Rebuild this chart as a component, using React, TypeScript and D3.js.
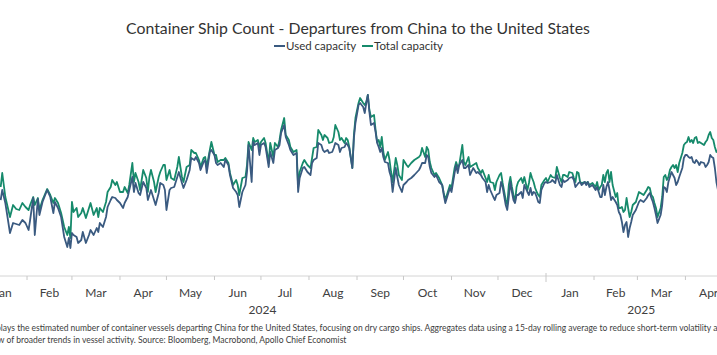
import React from "react";
import * as d3 from "d3";

const W = 717;
const H = 355;

// days since 2024-01-01 (UTC)
const dayOffsets = [
  14,15,17,20,22,24,26,28,30,32,33,35,36,38,39,41,44,46,48,49,51,53,55,57,58,59,60,61,63,64,66,67,69,71,72,74,76,77,78,80,82,83,85,86,88,89,91,
  93,94,96,97,99,100,101,103,104,106,108,109,110,111,113,114,116,117,119,120,121,123,124,126,128,129,131,132,134,136,137,139,140,142,143,145,146,147,149,150,152,153,154,156,158,159,161,162,164,166,167,168,
  170,172,173,174,176,177,178,180,181,182,184,185,187,188,190,191,193,194,195,197,198,200,201,203,205,206,207,209,210,212,214,215,216,218,219,221,222,223,225,226,228,229,230,232,233,234,236,237,238,239,241,242,243,245,246,
  248,249,250,251,252,253,255,256,257,258,259,260,261,262,264,265,266,267,269,270,271,273,274,276,277,279,281,284,285,286,288,289,290,291,292,294,295,297,299,300,301,302,304,305,307,308,309,310,312,313,314,316,317,319,321,322,324,
  325,327,328,329,330,332,333,334,336,337,338,340,341,342,343,344,345,346,347,348,350,351,352,354,355,356,357,358,359,360,361,362,363,365,366,367,369,370,372,373,375,376,377,378,380,381,383,384,385,386,387,388,389,391,392,393,394,396,398,399,400,401,402,
  403,404,405,406,407,408,409,411,412,413,414,415,416,417,418,419,420,421,422,424,426,427,429,431,432,433,434,435,436,437,438,440,441,442,443,444,445,446,447,448,449,450,451,452,454,455,456,457,458,459,460,461,462,463,464,465,466,468,469,470,471,472,473,474,475,476,477,
];

const usedCapacity = [
  100,110,97,67,77,76,75,80,77,70,80,102,65,101,85,98,110,103,87,98,92,83,63,53,62,52,67,65,63,57,60,68,57,65,70,65,72,68,77,73,83,93,100,103,102,100,97,
  92,97,103,110,123,108,117,107,105,118,112,100,105,110,100,95,107,117,115,110,90,110,112,113,123,128,117,112,120,130,142,140,143,137,130,138,140,127,148,150,145,137,135,137,133,140,135,125,112,108,105,93,
  108,115,128,155,118,158,155,157,145,155,157,153,133,148,137,150,152,155,167,175,163,155,150,145,147,108,122,132,133,128,125,137,140,142,157,155,150,148,150,147,148,152,157,155,148,152,153,157,155,152,132,162,177,195,197,
  193,187,197,205,188,175,177,168,157,153,148,152,143,138,137,128,123,108,132,123,115,108,115,118,120,122,125,130,133,137,137,145,143,133,127,123,125,118,115,105,97,102,112,108,127,135,127,135,140,132,132,135,125,132,127,128,125,
  122,118,108,115,110,103,100,105,107,118,113,95,90,103,118,108,100,97,105,105,108,102,115,108,105,112,105,108,107,103,98,97,110,117,118,117,118,120,117,125,115,113,120,118,120,122,123,120,113,115,117,118,115,118,115,118,113,115,110,113,108,103,103,
  115,105,113,118,110,100,103,98,95,88,85,78,68,75,78,63,72,78,85,90,98,100,98,102,105,107,102,98,92,85,77,85,95,113,112,108,118,123,128,125,122,115,118,123,132,142,145,145,143,142,143,138,137,140,138,135,138,137,133,135,138,145,143,142,132,118,110,
];

const totalCapacity = [
  113,127,103,83,95,91,90,97,93,90,95,103,95,102,90,100,111,105,97,102,97,87,73,65,73,62,98,88,92,83,87,92,82,92,97,85,92,83,92,88,98,108,113,120,115,118,108,
  108,113,107,115,137,118,127,118,110,130,122,108,123,130,118,108,123,128,135,135,120,130,122,120,133,143,123,118,133,135,150,147,147,140,133,142,143,133,150,158,145,145,138,140,140,142,137,127,115,120,115,105,
  122,123,135,158,150,162,158,160,153,158,162,157,137,157,143,157,153,160,170,182,165,160,153,148,150,113,128,137,140,135,132,142,152,153,170,165,160,165,162,157,158,163,175,168,160,162,157,162,160,153,132,165,182,197,202,
  197,195,198,205,190,183,185,170,158,160,153,163,148,140,148,140,128,118,142,135,125,120,140,135,133,137,140,143,145,152,143,153,150,138,132,125,127,122,115,107,100,105,115,112,132,138,133,135,155,138,135,143,133,135,137,132,127,
  130,122,118,125,118,117,110,118,125,127,117,100,95,115,123,113,105,98,113,118,122,117,123,110,117,127,122,118,112,108,105,103,115,120,122,118,125,123,122,133,122,118,125,125,123,128,127,122,118,128,127,118,117,118,117,118,115,117,113,118,110,113,115,
  125,118,127,130,118,128,115,103,107,92,92,93,88,90,102,92,83,88,95,98,108,107,105,110,113,112,105,103,97,92,83,92,103,123,125,120,123,130,133,135,132,135,128,137,147,155,157,158,163,158,160,157,162,163,157,158,157,155,158,160,165,168,162,160,153,148,150,
];

const seriesNames = ["Used capacity", "Total capacity"];
const seriesColors = ["#3a5a80", "#168a6b"];

const titleText = "Container Ship Count - Departures from China to the United States";
const footnoteLines = [
  "Displays the estimated number of container vessels departing China for the United States, focusing on dry cargo ships. Aggregates data using a 15-day rolling average to reduce short-term volatility and provide a clearer",
  "view of broader trends in vessel activity. Source: Bloomberg, Macrobond, Apollo Chief Economist",
];

const FONT = "'Segoe UI', Lato, 'Open Sans', sans-serif";
const DAY = 864e5;
const BASE = Date.UTC(2024, 0, 1);
const toDate = (d: number) => new Date(BASE + d * DAY);

export default function App() {
  const x = d3
    .scaleUtc()
    .domain([new Date(Date.UTC(2024, 0, 1)), new Date(Date.UTC(2025, 0, 1))])
    .range([-21, 546]);
  const y = d3.scaleLinear().domain([40, 220]).range([260, 80]);

  const axisStart = new Date(Date.UTC(2023, 11, 18));
  const axisEnd = new Date(Date.UTC(2025, 4, 4));
  const axisY = 276;

  const monthStarts = d3.utcMonth.range(d3.utcMonth.floor(axisStart), axisEnd);
  const tickDates = monthStarts.filter((m) => m > axisStart);
  const years = [2024, 2025];

  const idx = d3.range(dayOffsets.length);
  const mk = (vals: number[]) =>
    d3
      .line<number>()
      .x((i) => x(toDate(dayOffsets[i])))
      .y((i) => y(vals[i]))(idx) || "";

  const seriesVals = [usedCapacity, totalCapacity];

  return (
    <svg
      width={W}
      height={H}
      style={{ position: "absolute", left: 0, top: 0, background: "#fff" }}
      fontFamily={FONT}
    >
      <text x={358} y={34} textAnchor="middle" fontSize={15.8} fill="#333">
        {titleText}
      </text>
      {/* legend */}
      <g fontSize={11.5} fill="#333">
        <line x1={274} x2={285} y1={46} y2={46} stroke={seriesColors[0]} strokeWidth={2} />
        <text x={286} y={50}>{seriesNames[0]}</text>
        <line x1={362} x2={373} y1={46} y2={46} stroke={seriesColors[1]} strokeWidth={2} />
        <text x={374} y={50}>{seriesNames[1]}</text>
      </g>

      {/* lines: total first, used on top */}
      <path d={mk(seriesVals[1])} fill="none" stroke={seriesColors[1]} strokeWidth={1.8} strokeLinejoin="round" />
      <path d={mk(seriesVals[0])} fill="none" stroke={seriesColors[0]} strokeWidth={1.8} strokeLinejoin="round" />

      {/* axis */}
      <line x1={x(axisStart)} x2={x(axisEnd)} y1={axisY} y2={axisY} stroke="#d4d4d4" strokeWidth={1} />
      {tickDates.map((m, i) => {
        const isYear = m.getUTCMonth() === 0;
        return (
          <line
            key={i}
            x1={x(m)}
            x2={x(m)}
            y1={isYear ? axisY - 3 : axisY}
            y2={isYear ? axisY + 6 : axisY + 4}
            stroke="#c8c8c8"
            strokeWidth={1}
          />
        );
      })}
      {monthStarts.map((m, i) => {
        const next = d3.utcMonth.offset(m, 1);
        const cx = (x(m) + x(next)) / 2;
        return (
          <text key={i} x={cx} y={297} textAnchor="middle" fontSize={12} fill="#404040">
            {d3.utcFormat("%b")(m)}
          </text>
        );
      })}
      {years.map((yr) => {
        const a = new Date(Math.max(Date.UTC(yr, 0, 1), +axisStart));
        const b = new Date(Math.min(Date.UTC(yr + 1, 0, 1), +axisEnd));
        return (
          <text key={yr} x={(x(a) + x(b)) / 2} y={314} textAnchor="middle" fontSize={12} fill="#404040">
            {yr}
          </text>
        );
      })}

      {/* footnote */}
      <text x={-16} y={331} fontSize={8.5} fill="#404040">{footnoteLines[0]}</text>
      <text x={-13} y={343} fontSize={8.5} fill="#404040">{footnoteLines[1]}</text>
    </svg>
  );
}
